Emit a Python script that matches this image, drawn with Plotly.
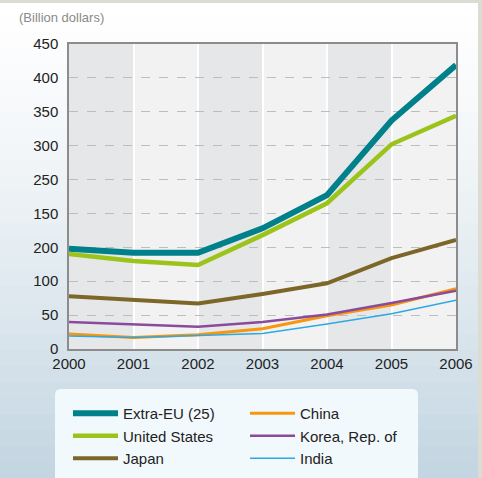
import plotly.graph_objects as go

years = [2000, 2001, 2002, 2003, 2004, 2005, 2006]
extra_eu = [148, 142, 142, 178, 227, 337, 419]
united_states = [140, 130, 124, 168, 215, 302, 344]
japan = [78, 72, 67, 81, 97, 134, 161]
china = [22, 17, 21, 30, 49, 65, 89]
korea = [40, 36, 33, 40, 51, 68, 86]
india = [19, 17, 20, 23, 37, 52, 72]

y_tickvals = [0, 50, 100, 150, 200, 250, 300, 350, 400, 450]
y_ticktext = ["0", "50", "100", "200", "150", "250", "300", "350", "400", "450"]
x_ticktext = ["2000", "2001", "2002", "2003", "2004", "2005", "2006"]

W, H = 482, 478
L, R, T, B = 69, 456, 44, 349
FONT = "Liberation Sans, Arial, sans-serif"


def px(x):
    return (x - L) / (R - L)


def py(y):
    return (B - y) / (B - T)


series = [
    ("Extra-EU (25)", extra_eu, "#00808a", 6),
    ("China", china, "#f7960f", 3),
    ("United States", united_states, "#9cc31a", 4.5),
    ("Korea, Rep. of", korea, "#8a4b9c", 2.5),
    ("Japan", japan, "#7c6628", 4),
    ("India", india, "#2ea8e2", 1.5),
]

fig = go.Figure()
for name, vals, col, w in series:
    fig.add_trace(go.Scatter(x=years, y=vals, mode="lines", name=name,
                             line=dict(color=col, width=w), hoverinfo="skip"))

shapes = []
# page gradient background
top = (255, 255, 255)
bot = (196, 214, 226)
n = 30
for i in range(n):
    t = i / (n - 1)
    c = tuple(int(top[k] + (bot[k] - top[k]) * (t ** 1.3)) for k in range(3))
    y0 = H * i / n
    y1 = H * (i + 1) / n + 1
    shapes.append(dict(type="rect", xref="paper", yref="paper",
                       x0=px(0), x1=px(W), y0=py(y1), y1=py(y0),
                       fillcolor="rgb(%d,%d,%d)" % c, line=dict(width=0), layer="below"))
# borders
shapes.append(dict(type="rect", xref="paper", yref="paper", x0=px(0), x1=px(W), y0=py(3), y1=py(0),
                   fillcolor="#dcdcd4", line=dict(width=0), layer="below"))
shapes.append(dict(type="rect", xref="paper", yref="paper", x0=px(478), x1=px(W), y0=py(H), y1=py(0),
                   fillcolor="#dcdcd4", line=dict(width=0), layer="below"))
# plot bands
for i in range(len(years) - 1):
    col = "#e6e7e8" if i % 2 == 0 else "#f2f2f2"
    shapes.append(dict(type="rect", xref="x", yref="paper", x0=years[i], x1=years[i + 1], y0=0, y1=1,
                       fillcolor=col, line=dict(width=0), layer="below"))
# legend rounded box
x0, x1, y0, y1, r = 55, 418, 389, 482, 6
path = (f"M {px(x0+r)},{py(y0)} L {px(x1-r)},{py(y0)} "
        f"Q {px(x1)},{py(y0)} {px(x1)},{py(y0+r)} L {px(x1)},{py(y1)} "
        f"L {px(x0)},{py(y1)} L {px(x0)},{py(y0+r)} Q {px(x0)},{py(y0)} {px(x0+r)},{py(y0)} Z")
shapes.append(dict(type="path", xref="paper", yref="paper", path=path,
                   fillcolor="#f2f9fc", line=dict(width=0), layer="below"))

fig.update_layout(
    width=W, height=H,
    margin=dict(l=L, r=W - R, t=T, b=H - B, autoexpand=False),
    paper_bgcolor="white",
    plot_bgcolor="rgba(0,0,0,0)",
    font=dict(family=FONT, size=15, color="#222222"),
    shapes=shapes,
    showlegend=True,
    legend=dict(orientation="h", xref="container", yref="container",
                x=68 / W, y=1 - 397 / H, xanchor="left", yanchor="top",
                entrywidth=117, entrywidthmode="pixels",
                bgcolor="rgba(0,0,0,0)", font=dict(family=FONT, size=15, color="#222222"),
                itemwidth=45, tracegroupgap=0),
    xaxis=dict(range=[2000, 2006], tickvals=years, ticktext=x_ticktext,
               showgrid=True, gridcolor="white", gridwidth=2,
               showline=True, linecolor="#8c8c8c", linewidth=1.5, mirror=True,
               zeroline=False, ticks="", fixedrange=True,
               tickfont=dict(family=FONT, size=15, color="#222222")),
    yaxis=dict(range=[0, 450], tickvals=y_tickvals, ticktext=y_ticktext,
               showgrid=True, gridcolor="#bdbdbd", griddash="dash", gridwidth=1,
               showline=True, linecolor="#8c8c8c", linewidth=1.5, mirror=True,
               zeroline=False, ticks="", ticklabelstandoff=6, fixedrange=True,
               tickfont=dict(family=FONT, size=15, color="#222222")),
    annotations=[dict(text="(Billion dollars)", xref="paper", yref="paper",
                      x=px(17), y=py(18), xanchor="left", yanchor="middle",
                      showarrow=False, font=dict(family=FONT, size=13, color="#8a8a8a"))],
)

fig.write_html("out.html", config={"displayModeBar": False},
               post_script="document.body.style.margin='0';")
